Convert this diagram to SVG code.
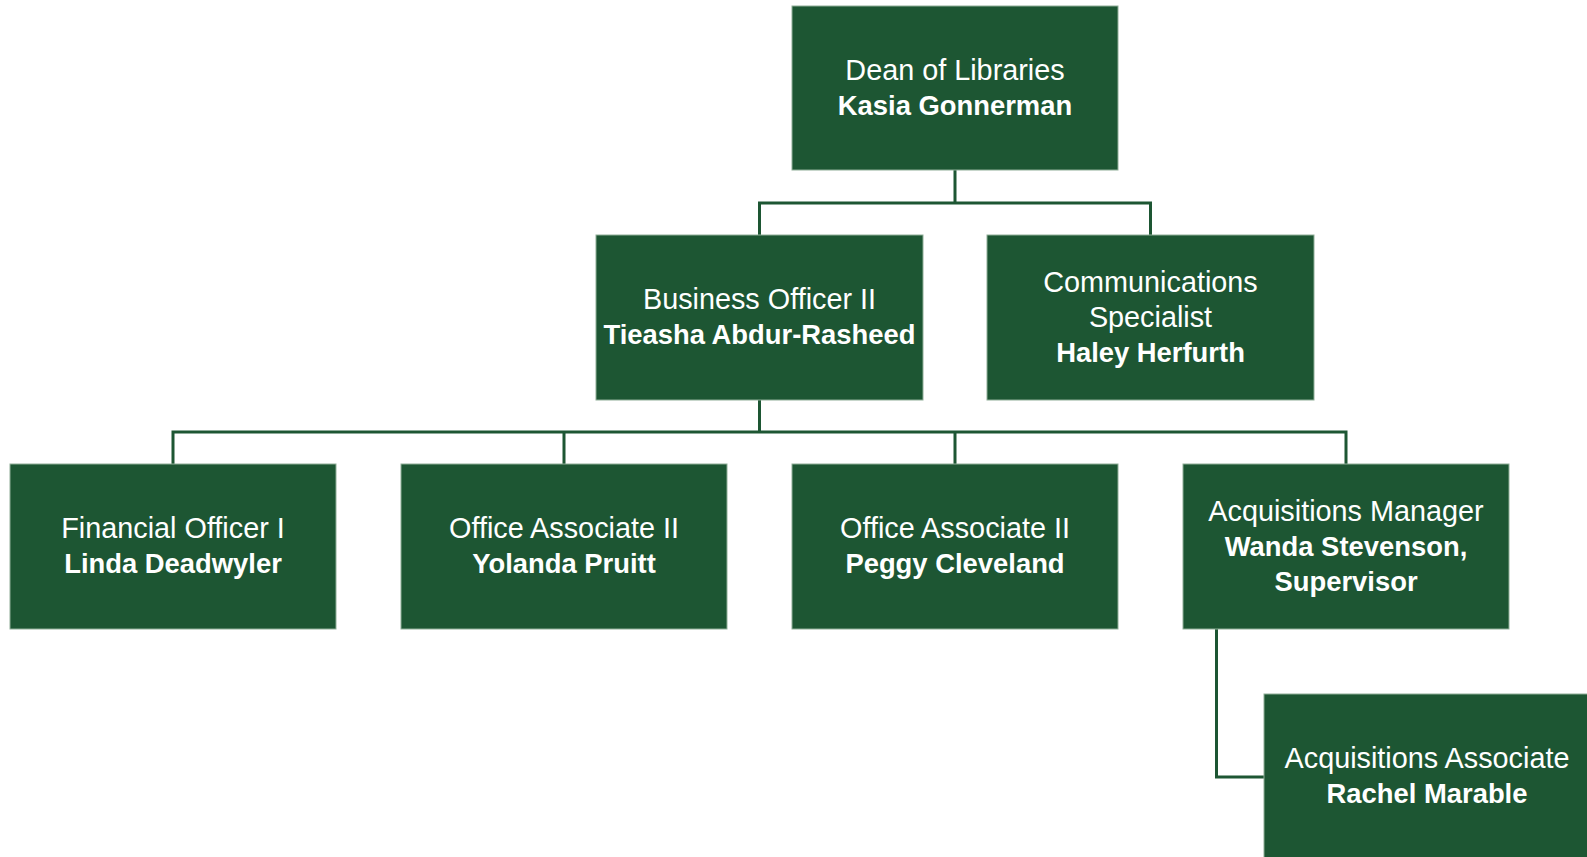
<svg xmlns="http://www.w3.org/2000/svg" width="1587" height="857" viewBox="0 0 1587 857">
<style>
.box{fill:#1D5633;stroke:#8fae98;stroke-width:1}
.t{font-family:"Liberation Sans",Arial,sans-serif;font-size:28.8px;fill:#ffffff;text-anchor:middle}
.b{font-weight:bold;font-size:27.4px}
.c{fill:none;stroke:#1D5633;stroke-width:3}
</style>
<rect width="1587" height="857" fill="#ffffff"/>
<g id="connectors">
<path class="c" d="M955 170V203M759.5 203H1150.5M759.5 201.5V235M1150.5 201.5V235"/>
<path class="c" d="M759.5 400V432M173 432H1346M173 430.5V464M564 430.5V464M955 430.5V464M1346 430.5V464"/>
<path class="c" d="M1216.5 629V777H1264"/>
</g>
<g id="dean">
<rect class="box" x="792" y="6" width="326" height="164"/>
<text class="t" x="955" y="80">Dean of Libraries</text>
<text class="t b" x="955" y="115">Kasia Gonnerman</text>
</g>
<g id="business">
<rect class="box" x="596" y="235" width="327" height="165"/>
<text class="t" x="759.5" y="309">Business Officer II</text>
<text class="t b" x="759.5" y="344">Tieasha Abdur-Rasheed</text>
</g>
<g id="comms">
<rect class="box" x="987" y="235" width="327" height="165"/>
<text class="t" x="1150.5" y="292">Communications</text>
<text class="t" x="1150.5" y="327">Specialist</text>
<text class="t b" x="1150.5" y="362">Haley Herfurth</text>
</g>
<g id="financial">
<rect class="box" x="10" y="464" width="326" height="165"/>
<text class="t" x="173" y="538">Financial Officer I</text>
<text class="t b" x="173" y="573">Linda Deadwyler</text>
</g>
<g id="office1">
<rect class="box" x="401" y="464" width="326" height="165"/>
<text class="t" x="564" y="538">Office Associate II</text>
<text class="t b" x="564" y="573">Yolanda Pruitt</text>
</g>
<g id="office2">
<rect class="box" x="792" y="464" width="326" height="165"/>
<text class="t" x="955" y="538">Office Associate II</text>
<text class="t b" x="955" y="573">Peggy Cleveland</text>
</g>
<g id="acqmanager">
<rect class="box" x="1183" y="464" width="326" height="165"/>
<text class="t" x="1346" y="521">Acquisitions Manager</text>
<text class="t b" x="1346" y="556">Wanda Stevenson,</text>
<text class="t b" x="1346" y="591">Supervisor</text>
</g>
<g id="acqassociate">
<rect class="box" x="1264" y="694" width="326" height="165"/>
<text class="t" x="1427" y="768">Acquisitions Associate</text>
<text class="t b" x="1427" y="803">Rachel Marable</text>
</g>
</svg>
